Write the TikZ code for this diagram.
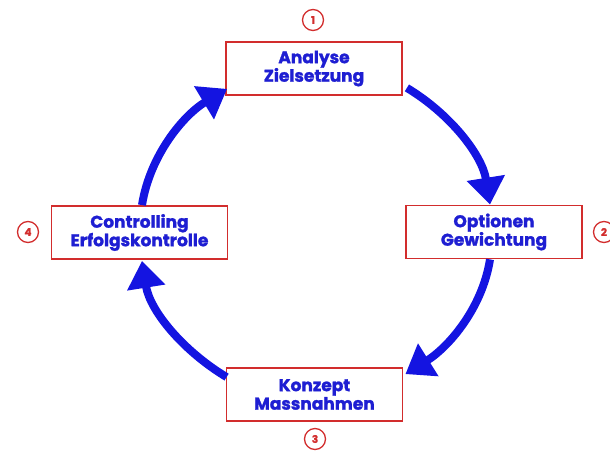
\documentclass[tikz,border=0pt]{standalone}
\usepackage{fontspec}
\setmainfont{Poppins}[BoldFeatures={FakeBold=1.4}]
\usetikzlibrary{arrows.meta}
\definecolor{boxred}{RGB}{210,45,45}
\definecolor{txtblue}{RGB}{30,30,210}
\definecolor{arrblue}{RGB}{20,20,225}
\begin{document}
\begin{tikzpicture}[x=1pt,y=-1pt,
  stepbox/.style={draw=boxred,line width=1.8pt,fill=white,minimum width=176pt,minimum height=53pt,
    align=center,inner sep=0pt,font=\fontsize{17}{18.5}\selectfont\bfseries,text=txtblue},
  numcirc/.style={draw=boxred,line width=1.3pt,circle,minimum size=21pt,inner sep=0pt,
    font=\fontsize{10.5}{10.5}\selectfont\bfseries,text=boxred},
  arr/.style={draw=arrblue,line width=8pt,-{Triangle[width=37pt,length=27pt]},looseness=0.9}]
\useasboundingbox (0,0) rectangle (610,450);
\node[stepbox] (b1) at (314,68.5) {Analyse\\Zielsetzung};
\node[stepbox] (b2) at (494,232) {Optionen\\Gewichtung};
\node[stepbox] (b3) at (314.5,394.5) {Konzept\\Massnahmen};
\node[stepbox] (b4) at (139.5,232.5) {Controlling\\Erfolgskontrolle};
\node[numcirc] (n1) at (313,20) {1};
\node[numcirc] (n2) at (604,232) {2};
\node[numcirc] (n3) at (315,439) {3};
\node[numcirc] (n4) at (28,232) {4};
\draw[arr] ([shift={(4,-8)}]b1.south east) to[out=-31,in=99] ([shift={(-4,0)}]b2.north);
\draw[arr] ([shift={(-4,0)}]b2.south) to[out=-99,in=32] ([shift={(2,7)}]b3.north east);
\draw[arr] ([shift={(1,10)}]b3.north west) to[out=149,in=-81] ([shift={(2.5,1)}]b4.south);
\draw[arr] ([shift={(2.5,0)}]b4.north) to[out=81,in=-149] ([shift={(2,-7)}]b1.south west);
\end{tikzpicture}
\end{document}
